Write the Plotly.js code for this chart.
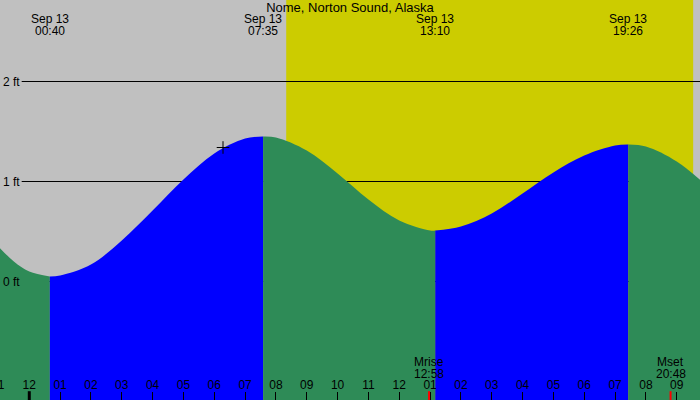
<!DOCTYPE html>
<html>
<head>
<meta charset="utf-8">
<script src="https://cdn.plot.ly/plotly-3.0.1.min.js"></script>
<style>
  body { margin: 0; }
  #plot { width: 700px; height: 400px; }
</style>
</head>
<body>
<div id="plot"></div>
<script>
// tide heights (ft), with the highs and lows included
var tideTimes = [
    '2025-09-12 23:00', '2025-09-12 23:30', '2025-09-13 00:00', '2025-09-13 00:40',
    '2025-09-13 01:00', '2025-09-13 02:00', '2025-09-13 03:00', '2025-09-13 04:00',
    '2025-09-13 05:00', '2025-09-13 06:00', '2025-09-13 07:00', '2025-09-13 07:35',
    '2025-09-13 08:00', '2025-09-13 09:00', '2025-09-13 10:00', '2025-09-13 11:00',
    '2025-09-13 12:00', '2025-09-13 13:00', '2025-09-13 13:10', '2025-09-13 14:00',
    '2025-09-13 15:00', '2025-09-13 16:00', '2025-09-13 17:00', '2025-09-13 18:00',
    '2025-09-13 19:00', '2025-09-13 19:26', '2025-09-13 20:00', '2025-09-13 21:00',
    '2025-09-13 22:00'
];
var tideFeet = [
    0.35, 0.20, 0.10, 0.05,
    0.06, 0.17, 0.41, 0.71,
    1.02, 1.28, 1.43, 1.45,
    1.44, 1.31, 1.08, 0.82,
    0.61, 0.51, 0.51, 0.55,
    0.68, 0.88, 1.09, 1.26,
    1.36, 1.37, 1.35, 1.20,
    0.95
];

var extremeTimes = ['2025-09-13 00:40', '2025-09-13 07:35', '2025-09-13 13:10', '2025-09-13 19:26'];
var extremeDays = ['Sep 13', 'Sep 13', 'Sep 13', 'Sep 13'];

var sunrise = '2025-09-13 08:20';
var sunset = '2025-09-13 21:32';
var moonTimes = ['2025-09-13 12:58', '2025-09-13 20:48'];
var moonNames = ['Mrise', 'Mset'];
var nowTime = ['2025-09-13 06:17'];
var nowFeet = [1.34];
var midnight = '2025-09-13 00:00';
var feetTicks = [0, 1, 2];

var font = {family: 'Liberation Sans, Arial, sans-serif', size: 12, color: '#000'};
var floorFeet = -2;

// split the curve at every high / low: rising = blue, falling = green
var cuts = [0];
extremeTimes.forEach(function (t) {
    cuts.push(tideTimes.indexOf(t));
});
cuts.push(tideTimes.length - 1);

var traces = [];
for (var k = 0; k < cuts.length - 1; k++) {
    var segX = tideTimes.slice(cuts[k], cuts[k + 1] + 1);
    var segY = tideFeet.slice(cuts[k], cuts[k + 1] + 1);
    var rising = segY[segY.length - 1] > segY[0];
    traces.push({
        x: segX,
        y: segX.map(function () { return floorFeet; }),
        mode: 'lines', line: {width: 0}, hoverinfo: 'skip', showlegend: false
    });
    traces.push({
        x: segX, y: segY,
        mode: 'lines', line: {width: 0, shape: 'spline'},
        fill: 'tonexty', fillcolor: rising ? '#0000ff' : '#2e8b57',
        hoverinfo: 'skip', showlegend: false
    });
}
traces.push({
    x: nowTime, y: nowFeet, mode: 'markers',
    marker: {symbol: 'cross-thin', size: 9, line: {width: 1, color: '#000'}},
    hoverinfo: 'skip', showlegend: false
});

var shapes = [{
    type: 'rect', xref: 'x', yref: 'paper', x0: sunrise, x1: sunset, y0: 0, y1: 1,
    fillcolor: '#cccc00', line: {width: 0}, layer: 'below'
}];
feetTicks.forEach(function (v) {
    shapes.push({
        type: 'line', xref: 'paper', yref: 'y', x0: 0.031, x1: 1, y0: v, y1: v,
        line: {color: '#000', width: 1}, layer: 'between'
    });
});
shapes.push({
    type: 'line', xref: 'x', yref: 'paper', x0: midnight, x1: midnight, y0: 0, y1: 0.022,
    line: {color: '#000', width: 3}
});
moonTimes.forEach(function (t) {
    shapes.push({
        type: 'line', xref: 'x', yref: 'paper', x0: t, x1: t, y0: 0, y1: 0.022,
        line: {color: '#ff0000', width: 2}
    });
});

var annotations = [];
extremeTimes.forEach(function (t, i) {
    annotations.push({x: t, xref: 'x', y: 1 - 19.5 / 400, yref: 'paper', yanchor: 'middle',
        text: extremeDays[i], showarrow: false, font: font});
    annotations.push({x: t, xref: 'x', y: 1 - 31.5 / 400, yref: 'paper', yanchor: 'middle',
        text: t.slice(11, 16), showarrow: false, font: font});
});
moonTimes.forEach(function (t, i) {
    annotations.push({x: t, xref: 'x', y: 1 - 361.5 / 400, yref: 'paper', yanchor: 'middle',
        text: moonNames[i], showarrow: false, font: font});
    annotations.push({x: t, xref: 'x', y: 1 - 373.5 / 400, yref: 'paper', yanchor: 'middle',
        text: t.slice(11, 16), showarrow: false, font: font});
});
// hour label just left of the visible range, cut by the edge
annotations.push({x: -1.5 / 700, xref: 'paper', y: 1 - 385 / 400, yref: 'paper',
    xanchor: 'center', yanchor: 'middle', text: '11', showarrow: false, font: font});

var layout = {
    width: 700, height: 400,
    margin: {l: 0, r: 0, t: 0, b: 0, pad: 0},
    paper_bgcolor: '#c0c0c0',
    plot_bgcolor: '#c0c0c0',
    font: font,
    title: {
        text: 'Nome, Norton Sound, Alaska',
        x: 0.5, xanchor: 'center', y: 1 - 7.5 / 400, yref: 'container', yanchor: 'middle',
        font: {family: font.family, size: 13, color: '#000'}
    },
    xaxis: {
        type: 'date',
        range: ['2025-09-12 23:03', '2025-09-13 21:45:18'],
        tick0: midnight, dtick: 3600000, tickformat: '%I',
        ticks: 'inside', ticklen: 8, tickcolor: '#000', tickwidth: 1,
        ticklabelposition: 'inside', ticklabeloverflow: 'allow',
        showgrid: false, zeroline: false, showline: false,
        tickfont: font
    },
    yaxis: {
        range: [-1.185, 2.815],
        tickmode: 'array',
        tickvals: feetTicks,
        ticktext: feetTicks.map(function (v) { return v + ' ft'; }),
        ticks: '', ticklabelposition: 'inside', ticklabeloverflow: 'allow',
        showgrid: false, zeroline: false, showline: false,
        tickfont: font
    },
    shapes: shapes,
    annotations: annotations,
    hovermode: false,
    showlegend: false
};

Plotly.newPlot('plot', traces, layout, {displayModeBar: false, staticPlot: true});
</script>
</body>
</html>
